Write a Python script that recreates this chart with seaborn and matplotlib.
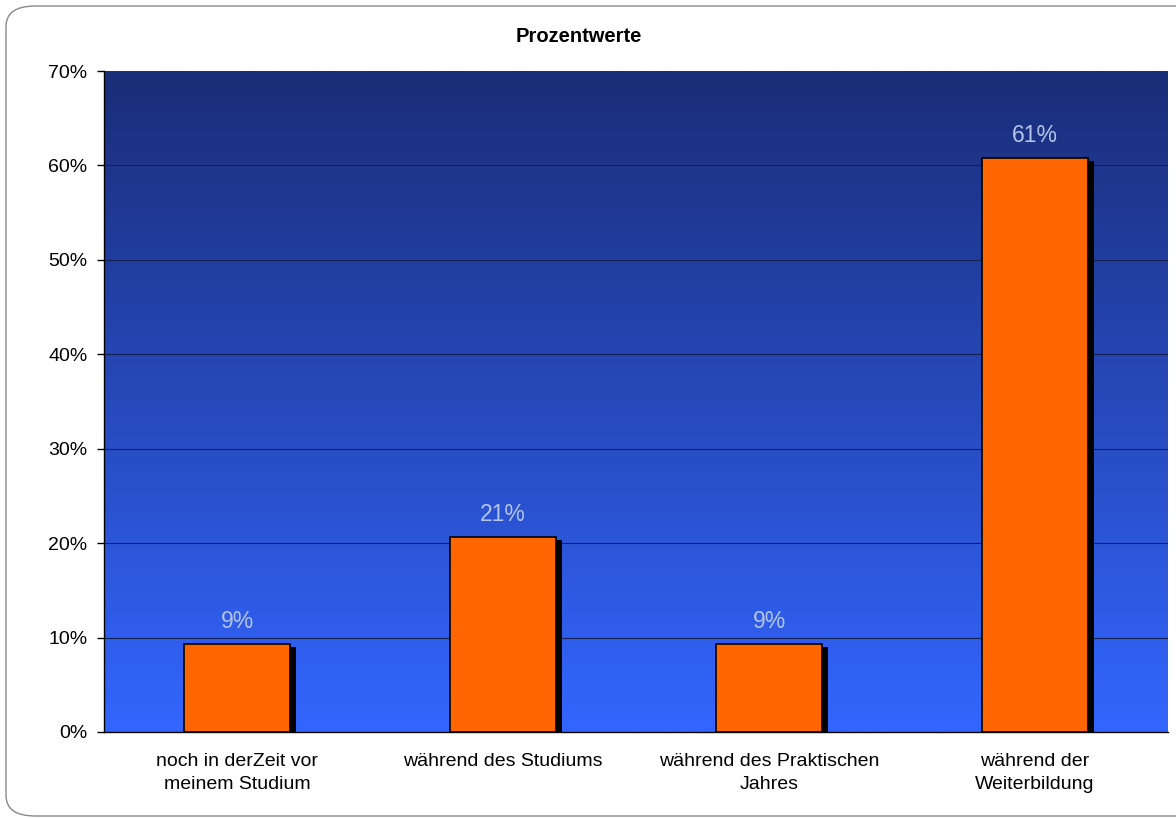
import numpy as np
import pandas as pd
import matplotlib.pyplot as plt
import seaborn as sns
from matplotlib.colors import LinearSegmentedColormap
from matplotlib.patches import FancyBboxPatch, Rectangle

categories = ['noch in derZeit vor\nmeinem Studium', 'während des Studiums',
              'während des Praktischen\nJahres', 'während der\nWeiterbildung']
values = [9.3, 20.6, 9.3, 60.8]
labels = ['9%', '21%', '9%', '61%']
yticks = [0, 10, 20, 30, 40, 50, 60, 70]

sns.set_theme(style='white')
plt.rcParams['font.family'] = ['Liberation Sans', 'DejaVu Sans']
plt.rcParams['text.color'] = 'black'
plt.rcParams['xtick.color'] = 'black'
plt.rcParams['ytick.color'] = 'black'

df = pd.DataFrame({'cat': categories, 'val': values})

fig = plt.figure(figsize=(11.76, 8.19), dpi=100)
ax = fig.add_axes([104/1176, 1-732/819, (1168-104)/1176, (732-71)/819])

# gradient background, dark navy on top to bright blue at bottom
grad = LinearSegmentedColormap.from_list('bg', ['#3366ff', '#1a2d78'])
ax.imshow(np.linspace(0, 1, 256).reshape(-1, 1), aspect='auto', cmap=grad,
          extent=[-0.5, 3.5, 0, 70], origin='lower', zorder=0)

for t in yticks[1:-1]:
    ax.axhline(t, color='#142050', lw=0.8, zorder=1)

sns.barplot(data=df, x='cat', y='val', color='#ff6600', width=0.4,
            edgecolor='black', linewidth=1.2, saturation=1, ax=ax, zorder=3)

# black drop shadow behind each bar
for p in ax.patches:
    sh = Rectangle((p.get_x() + 0.022, 0), p.get_width(), p.get_height() - 0.3,
                   facecolor='black', edgecolor='none', zorder=2)
    ax.add_patch(sh)

for i, (v, lab) in enumerate(zip(values, labels)):
    ax.text(i, v + 1.2, lab, ha='center', va='bottom', fontsize=16.5, color='#b4c4e8', zorder=4)

ax.set_xlim(-0.5, 3.5)
ax.set_ylim(0, 70)
ax.set_yticks(yticks)
ax.set_yticklabels([f'{t}%' for t in yticks], fontsize=14)
ax.set_xlabel('')
ax.set_ylabel('')
for lbl in ax.get_xticklabels():
    lbl.set_linespacing(1.5)
ax.tick_params(axis='x', labelsize=14, length=0, pad=15)
ax.tick_params(axis='y', left=True, length=5, width=1, color='black', pad=7)
for s in ['top', 'right']:
    ax.spines[s].set_visible(False)
ax.spines['left'].set_color('black')
ax.spines['bottom'].set_color('black')
ax.spines['left'].set_linewidth(1)
ax.spines['bottom'].set_linewidth(1)

fig.text(579/1176, 1-37/819, 'Prozentwerte', ha='center', va='center', fontsize=14.5, fontweight='bold')

frame = FancyBboxPatch((6/1176, 3/819), 1.1, 810/819,
                       boxstyle='round,pad=0,rounding_size=0.025', transform=fig.transFigure,
                       facecolor='none', edgecolor='#888888', lw=1, zorder=-1)
fig.patches.append(frame)

fig.savefig('out.png', dpi=100)
